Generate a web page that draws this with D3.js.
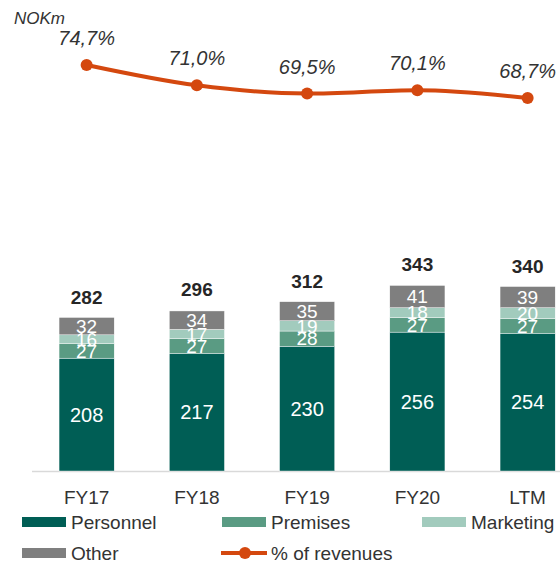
<!DOCTYPE html>
<html>
<head>
<meta charset="utf-8">
<script src="https://cdn.jsdelivr.net/npm/d3@7"></script>
<style>
  body { margin: 0; background: #fff; }
  text { font-family: "Liberation Sans", Arial, sans-serif; }
</style>
</head>
<body>
<div id="chart"></div>
<script>
// data
const categories = ["FY17", "FY18", "FY19", "FY20", "LTM"];
const personnel = [208, 217, 230, 256, 254];
const premises = [27, 27, 28, 27, 27];
const marketing = [16, 17, 19, 18, 20];
const other = [32, 34, 35, 41, 39];
const totals = [282, 296, 312, 343, 340];
const pctRevenues = [74.7, 71.0, 69.5, 70.1, 68.7];
const pctLabels = ["74,7%", "71,0%", "69,5%", "70,1%", "68,7%"];

const seriesNames = ["Personnel", "Premises", "Marketing", "Other"];
const seriesColors = ["#005e55", "#5a9b83", "#a2cbbd", "#7f7f7f"];

const width = 560;
const height = 564;

const svg = d3.select("#chart")
  .append("svg")
  .attr("width", width)
  .attr("height", height);

// build rows for the stack
const rows = categories.map((c, i) => ({
  cat: c,
  Personnel: personnel[i],
  Premises: premises[i],
  Marketing: marketing[i],
  Other: other[i]
}));

const stack = d3.stack().keys(seriesNames);
const stacked = stack(rows);

const x = d3.scaleBand()
  .domain(categories)
  .range([31.5, 582.75])
  .paddingInner(0.5)
  .paddingOuter(0.25);

const y = d3.scaleLinear()
  .domain([0, 400])
  .range([471, 254]);

// line scale (top part)
const yLine = d3.scaleLinear()
  .domain([68.7, 74.7])
  .range([98, 65]);

// baseline
svg.append("line")
  .attr("x1", 32).attr("x2", width)
  .attr("y1", y(0) + 0.5).attr("y2", y(0) + 0.5)
  .attr("stroke", "#d9d9d9")
  .attr("stroke-width", 1.5);

// bars
const layer = svg.append("g")
  .selectAll("g")
  .data(stacked)
  .enter().append("g")
  .attr("fill", (d, i) => seriesColors[i]);

layer.selectAll("rect")
  .data(d => d)
  .enter().append("rect")
  .attr("x", d => x(d.data.cat))
  .attr("width", x.bandwidth())
  .attr("y", d => y(d[1]))
  .attr("height", d => y(d[0]) - y(d[1]))
  .attr("stroke", "#ffffff")
  .attr("stroke-width", 0.4);

// segment labels
stacked.forEach((s, si) => {
  svg.append("g")
    .selectAll("text")
    .data(s)
    .enter().append("text")
    .attr("x", d => x(d.data.cat) + x.bandwidth() / 2)
    .attr("y", d => (y(d[0]) + y(d[1])) / 2)
    .attr("dy", "0.36em")
    .attr("text-anchor", "middle")
    .attr("fill", "#ffffff")
    .style("font-size", si === 0 ? "20px" : "19px")
    .text(d => d[1] - d[0]);
});

// totals
svg.append("g")
  .selectAll("text")
  .data(categories)
  .enter().append("text")
  .attr("x", d => x(d) + x.bandwidth() / 2)
  .attr("y", (d, i) => y(totals[i]) - 14)
  .attr("text-anchor", "middle")
  .attr("fill", "#262626")
  .style("font-size", "19px")
  .style("font-weight", "bold")
  .text((d, i) => totals[i]);

// x axis labels
svg.append("g")
  .selectAll("text")
  .data(categories)
  .enter().append("text")
  .attr("x", d => x(d) + x.bandwidth() / 2)
  .attr("y", 504)
  .attr("text-anchor", "middle")
  .attr("fill", "#333333")
  .style("font-size", "19px")
  .text(d => d);

// % of revenues line
const lineColor = "#d4480f";
const line = d3.line()
  .x((d, i) => x(categories[i]) + x.bandwidth() / 2)
  .y(d => yLine(d))
  .curve(d3.curveMonotoneX);

svg.append("path")
  .datum(pctRevenues)
  .attr("d", line)
  .attr("fill", "none")
  .attr("stroke", lineColor)
  .attr("stroke-width", 4);

svg.append("g")
  .selectAll("circle")
  .data(pctRevenues)
  .enter().append("circle")
  .attr("cx", (d, i) => x(categories[i]) + x.bandwidth() / 2)
  .attr("cy", d => yLine(d))
  .attr("r", 6)
  .attr("fill", lineColor);

svg.append("g")
  .selectAll("text")
  .data(pctRevenues)
  .enter().append("text")
  .attr("x", (d, i) => x(categories[i]) + x.bandwidth() / 2)
  .attr("y", d => yLine(d) - 20)
  .attr("text-anchor", "middle")
  .attr("fill", "#333333")
  .style("font-size", "20px")
  .style("font-style", "italic")
  .text((d, i) => pctLabels[i]);

// unit label
svg.append("text")
  .attr("x", 14)
  .attr("y", 24)
  .attr("fill", "#333333")
  .style("font-size", "17px")
  .style("font-style", "italic")
  .text("NOKm");

// legend
const legendItems = [
  { name: "Personnel", color: seriesColors[0], x: 22, y: 522, type: "rect" },
  { name: "Premises", color: seriesColors[1], x: 222, y: 522, type: "rect" },
  { name: "Marketing", color: seriesColors[2], x: 422, y: 522, type: "rect" },
  { name: "Other", color: seriesColors[3], x: 22, y: 553, type: "rect" },
  { name: "% of revenues", color: lineColor, x: 221, y: 553, type: "line" }
];

const legend = svg.append("g")
  .selectAll("g")
  .data(legendItems)
  .enter().append("g")
  .attr("transform", d => `translate(${d.x}, ${d.y})`);

legend.filter(d => d.type === "rect")
  .append("rect")
  .attr("x", 0).attr("y", -5)
  .attr("width", 44).attr("height", 10)
  .attr("fill", d => d.color);

legend.filter(d => d.type === "line")
  .append("line")
  .attr("x1", 0).attr("x2", 46)
  .attr("y1", 0).attr("y2", 0)
  .attr("stroke", d => d.color)
  .attr("stroke-width", 4);

legend.filter(d => d.type === "line")
  .append("circle")
  .attr("cx", 24).attr("cy", 0).attr("r", 6)
  .attr("fill", d => d.color);

legend.append("text")
  .attr("x", d => d.type === "line" ? 50 : 49)
  .attr("y", 0)
  .attr("dy", "0.36em")
  .attr("fill", "#333333")
  .style("font-size", "19px")
  .text(d => d.name);
</script>
</body>
</html>
